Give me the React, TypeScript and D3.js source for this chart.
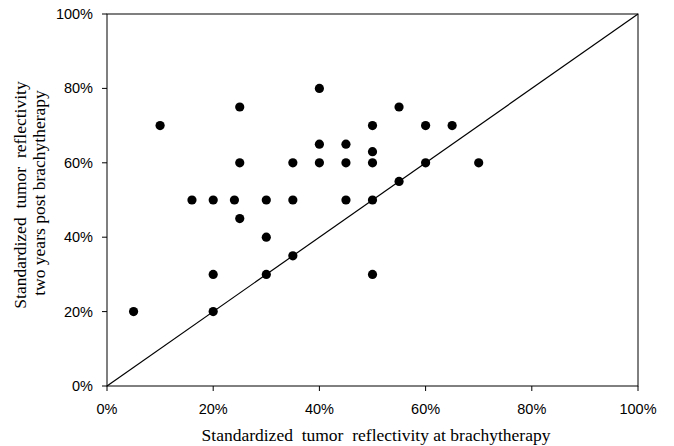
import React from 'react';
import * as d3 from 'd3';

// reflectivity at brachytherapy (%) vs two years post (%)
const atBrachy = [5, 10, 16, 20, 20, 20, 24, 25, 25, 25, 30, 30, 30, 35, 35, 35, 40, 40, 40, 45, 45, 45, 50, 50, 50, 50, 50, 55, 55, 60, 60, 65, 70];
const twoYearsPost = [20, 70, 50, 50, 30, 20, 50, 75, 60, 45, 50, 40, 30, 60, 50, 35, 80, 65, 60, 65, 60, 50, 70, 63, 60, 50, 30, 75, 55, 70, 60, 70, 60];
const xTicks = [0, 20, 40, 60, 80, 100];
const yTicks = [0, 20, 40, 60, 80, 100];

const W = 674;
const H = 446;
const margin = { top: 14, right: 36, bottom: 60, left: 107 };

export default function App() {
  const x = d3.scaleLinear().domain([0, 100]).range([margin.left, W - margin.right]);
  const y = d3.scaleLinear().domain([0, 100]).range([H - margin.bottom, margin.top]);
  const sans = '"Liberation Sans", Arial, sans-serif';
  const serif = '"Liberation Serif", "Times New Roman", serif';
  const line = d3.line<number>().x(d => x(d)).y(d => y(d));

  return (
    <svg width={W} height={H} style={{ position: 'absolute', left: 0, top: 0, background: '#fff' }}>
      <rect x={x(0)} y={y(100)} width={x(100) - x(0)} height={y(0) - y(100)} fill="none" stroke="#000" strokeWidth={1} />
      <path d={line([0, 100]) || ''} stroke="#000" strokeWidth={1.2} fill="none" />
      {yTicks.map(t => (
        <g key={'y' + t}>
          <line x1={x(0) - 5} x2={x(0)} y1={y(t)} y2={y(t)} stroke="#000" />
          <text x={x(0) - 14} y={y(t)} dy="0.35em" textAnchor="end" fontFamily={sans} fontSize={14.5}>{t}%</text>
        </g>
      ))}
      {xTicks.map(t => (
        <g key={'x' + t}>
          <line x1={x(t)} x2={x(t)} y1={y(0)} y2={y(0) + 5} stroke="#000" />
          <text x={x(t)} y={y(0) + 23} dy="0.35em" textAnchor="middle" fontFamily={sans} fontSize={14.5}>{t}%</text>
        </g>
      ))}
      {atBrachy.map((v, i) => (
        <circle key={i} cx={x(v)} cy={y(twoYearsPost[i])} r={4.6} fill="#000" />
      ))}
      <text x={376} y={435} dy="0.35em" textAnchor="middle" fontFamily={serif} fontSize={17.5} style={{ whiteSpace: 'pre' }}>{'Standardized  tumor  reflectivity at brachytherapy'}</text>
      <g transform="translate(20,195) rotate(-90)">
        <text textAnchor="middle" dy="0.35em" fontFamily={serif} fontSize={17.5} style={{ whiteSpace: 'pre' }}>{'Standardized  tumor  reflectivity'}</text>
      </g>
      <g transform="translate(39,193) rotate(-90)">
        <text textAnchor="middle" dy="0.35em" fontFamily={serif} fontSize={17.5}>two years post brachytherapy</text>
      </g>
    </svg>
  );
}
